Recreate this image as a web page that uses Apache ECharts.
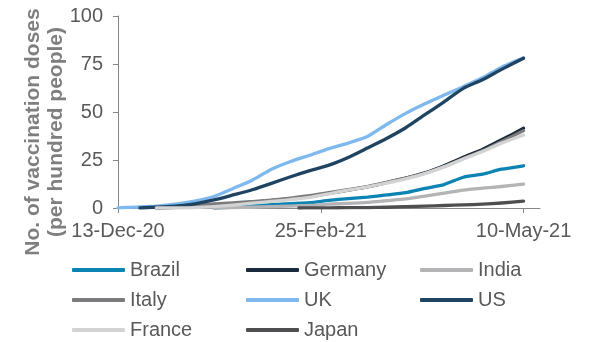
<!DOCTYPE html>
<html>
<head>
<meta charset="utf-8">
<script src="https://cdn.jsdelivr.net/npm/echarts@6/dist/echarts.min.js"></script>
<style>
  html, body { margin: 0; padding: 0; background: #fff; }
  #chart { width: 590px; height: 342px; }
</style>
</head>
<body>
<div id="chart"></div>
<script>
// Weekly observation dates (last point is 10 May)
const dates = [
  '2020-12-13','2020-12-20','2020-12-27','2021-01-03','2021-01-10','2021-01-17',
  '2021-01-24','2021-01-31','2021-02-07','2021-02-14','2021-02-21','2021-02-28',
  '2021-03-07','2021-03-14','2021-03-21','2021-03-28','2021-04-04','2021-04-11',
  '2021-04-18','2021-04-25','2021-05-02','2021-05-10'
];

// Cumulative vaccination doses per hundred people
const brazil  = [null, null, null, null, null, 0, 0.5, 1.1, 1.8, 2.3, 2.8, 4.0, 4.9, 5.7, 6.8, 8.0, 10.2, 12.2, 16.0, 17.6, 20.2, 22.0];
const germany = [null, null, 0, 0.3, 0.9, 1.6, 2.3, 3.1, 3.9, 4.8, 5.9, 7.6, 9.3, 11.0, 13.2, 15.6, 18.3, 22.0, 26.4, 30.5, 35.5, 41.5];
const india   = [null, null, null, null, null, 0, 0.2, 0.4, 0.7, 1.0, 1.3, 2.0, 2.4, 2.9, 3.8, 4.7, 6.2, 7.8, 9.3, 10.3, 11.2, 12.4];
const italy   = [null, null, 0, 0.4, 1.3, 2.1, 2.7, 3.3, 4.1, 5.2, 6.4, 8.0, 9.6, 11.2, 13.4, 15.6, 18.1, 21.6, 25.8, 29.8, 34.6, 40.3];
const uk      = [0.1, 0.5, 1.0, 2.0, 3.6, 6.0, 10.2, 14.5, 20.2, 24.2, 27.5, 30.9, 33.8, 37.2, 43.5, 49.3, 54.3, 58.8, 63.2, 67.8, 73.3, 78.2];
const us      = [null, null, 0.5, 1.0, 2.2, 4.2, 6.8, 9.5, 12.8, 16.3, 19.5, 22.3, 26.3, 31.2, 36.2, 41.8, 48.6, 55.3, 62.3, 66.8, 72.2, 78.0];
const france  = [null, null, 0, 0.05, 0.2, 0.7, 1.5, 2.5, 3.4, 4.4, 5.5, 7.4, 9.3, 11.0, 13.0, 15.2, 17.9, 21.4, 25.5, 29.4, 33.8, 38.0];
const japan   = [null, null, null, null, null, null, null, null, null, null, 0.05, 0.1, 0.15, 0.2, 0.4, 0.7, 1.0, 1.3, 1.6, 2.0, 2.6, 3.6];

// First day of each country's campaign (series start at zero there)
const countries = ['Brazil', 'Germany', 'India', 'Italy', 'UK', 'US', 'France', 'Japan'];
const startDates = ['2021-01-17', '2020-12-27', '2021-01-17', '2020-12-27', '2020-12-13', '2020-12-21', '2020-12-27', '2021-02-17'];
const values = [brazil, germany, india, italy, uk, us, france, japan];
const colors = ['#0b84b4', '#1b2a3b', '#b4b4b6', '#7b7b7d', '#7db8ef', '#1e4461', '#d3d3d3', '#4f4f51'];

// Axis tick labels
const xTicks = ['2020-12-13', '2021-02-25', '2021-05-10'];
const xMin = '2020-12-13';
const xMax = '2021-05-16';

const months = ['Jan','Feb','Mar','Apr','May','Jun','Jul','Aug','Sep','Oct','Nov','Dec'];
function toTime(s) {
  const p = s.split('-').map(Number);
  return Date.UTC(p[0], p[1] - 1, p[2]);
}
function fmtDate(v) {
  const d = new Date(v);
  return d.getUTCDate() + '-' + months[d.getUTCMonth()] + '-' + String(d.getUTCFullYear()).slice(2);
}
function buildSeriesData(vals, start) {
  const pts = [];
  vals.forEach((v, i) => { if (v !== null) pts.push([toTime(dates[i]), v]); });
  const st = toTime(start);
  if (pts.length && pts[0][0] > st) pts.unshift([st, 0]);
  return pts;
}

const FONT = 'Liberation Sans, Arial, sans-serif';
const chart = echarts.init(document.getElementById('chart'));

chart.setOption({
  animation: false,
  backgroundColor: '#ffffff',
  grid: { left: 118, right: 50, top: 16, bottom: 134 },
  xAxis: {
    type: 'value',
    min: toTime(xMin),
    max: toTime(xMax),
    splitLine: { show: false },
    axisLine: { lineStyle: { color: '#868686', width: 1 } },
    axisTick: {
      show: true, length: 5, inside: false,
      customValues: xTicks.map(toTime),
      lineStyle: { color: '#868686' }
    },
    axisLabel: {
      customValues: xTicks.map(toTime),
      formatter: fmtDate,
      color: '#595959',
      fontFamily: FONT,
      fontSize: 20,
      margin: 13,
      hideOverlap: false
    }
  },
  yAxis: {
    type: 'value',
    min: 0,
    max: 100,
    interval: 25,
    splitLine: { show: false },
    axisLine: { show: true, lineStyle: { color: '#868686', width: 1 } },
    axisTick: { show: true, length: 5, lineStyle: { color: '#868686' } },
    axisLabel: { color: '#595959', fontFamily: FONT, fontSize: 20, margin: 15 }
  },
  legend: {
    left: 72,
    top: 255,
    padding: 0,
    width: 530,
    itemGap: 0,
    itemWidth: 53,
    itemHeight: 4,
    icon: 'roundRect',
    selectedMode: false,
    textStyle: {
      color: '#595959', fontFamily: FONT, fontSize: 20,
      width: 116, lineHeight: 30
    },
    data: countries
  },
  graphic: [{
    type: 'text',
    x: 45,
    y: 132,
    rotation: Math.PI / 2,
    style: {
      text: 'No. of vaccination doses\n(per hundred people)',
      fill: '#7f7f7f',
      font: 'bold 21px ' + FONT,
      align: 'center',
      verticalAlign: 'middle',
      lineHeight: 23
    }
  }],
  series: countries.map((name, i) => ({
    name: name,
    type: 'line',
    data: buildSeriesData(values[i], startDates[i]),
    showSymbol: false,
    symbol: 'none',
    smooth: 0.2,
    color: colors[i],
    lineStyle: { width: 3.3, color: colors[i], cap: 'round', join: 'round' },
    emphasis: { disabled: true },
    silent: true
  }))
});
</script>
</body>
</html>
